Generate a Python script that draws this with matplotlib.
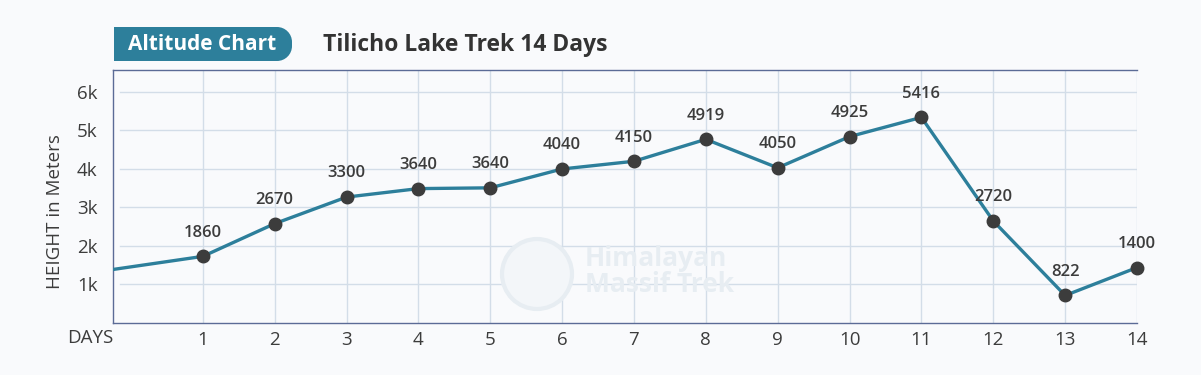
import matplotlib
matplotlib.use("Agg")
import matplotlib.pyplot as plt
from matplotlib.patches import PathPatch, Circle
from matplotlib.path import Path

plt.rcParams['font.family'] = ['Open Sans', 'DejaVu Sans']

# Data
days = [-1, 1, 2, 3, 4, 5, 6, 7, 8, 9, 10, 11, 12, 13, 14]
heights = [1186, 1730, 2580, 3270, 3490, 3510, 4000, 4200, 4770, 4030, 4840, 5340, 2650, 715, 1440]
label_texts = ["1860", "2670", "3300", "3640", "3640", "4040", "4150", "4919",
               "4050", "4925", "5416", "2720", "822", "1400"]
x_ticks = list(range(1, 15))
y_ticks = [1000, 2000, 3000, 4000, 5000, 6000]
y_tick_labels = ["1k", "2k", "3k", "4k", "5k", "6k"]

bg = "#f9fafc"
teal = "#2d7f9b"
dark = "#3c3c3c"
grid_c = "#d3dde8"
frame_c = "#5b6b96"
wm = "#e7edf2"

W, H = 1201, 375
fig = plt.figure(figsize=(W / 100, H / 100), dpi=100, facecolor=bg)
ax = fig.add_axes([113 / W, 1 - 323 / H, (1137 - 113) / W, (323 - 70) / H])
ax.set_facecolor(bg)
ax.set_xlim(-0.25, 14)
ax.set_ylim(0, 6570)

# grid
for x in x_ticks:
    ax.axvline(x, color=grid_c, lw=1, zorder=1)
for y in y_ticks:
    ax.axhline(y, color=grid_c, lw=1, zorder=1, xmin=0.007)

for s in ["top", "left", "bottom"]:
    ax.spines[s].set_color(frame_c)
    ax.spines[s].set_linewidth(1)
ax.spines["right"].set_visible(False)

# watermark
ax.add_patch(Circle((537, H - 274), 35, transform=None, fill=True, facecolor="#f3f6f9",
                    edgecolor=wm, lw=3, zorder=1.5))
fig.text(585 / W, 1 - 258 / H, "Himalayan", fontsize=19, fontweight="bold",
         color=wm, ha="left", va="center", zorder=1.5)
fig.text(585 / W, 1 - 284 / H, "Massif Trek", fontsize=19, fontweight="bold",
         color=wm, ha="left", va="center", zorder=1.5)

# line
ax.plot(days, heights, color=teal, lw=2.4, zorder=3, clip_on=True, solid_capstyle="round")
ax.plot(days[1:], heights[1:], "o", color=dark, markersize=9, zorder=4, clip_on=False)
for d, h, t in zip(days[1:], heights[1:], label_texts):
    ax.annotate(t, (d, h), xytext=(0, 17), textcoords="offset points",
                ha="center", va="center", fontsize=12, fontweight="semibold",
                color=dark, zorder=5)

ax.set_xticks(x_ticks)
ax.set_xticklabels([str(x) for x in x_ticks])
ax.set_yticks(y_ticks)
ax.set_yticklabels(y_tick_labels)
ax.tick_params(axis="both", length=0, labelsize=13.5, labelcolor=dark)
ax.tick_params(axis="x", pad=6)
ax.tick_params(axis="y", pad=11)
fig.text(113 / W, 1 - 338 / H, "DAYS", ha="right", va="center", fontsize=13.5, color=dark)

fig.text(55 / W, 1 - 212 / H, "HEIGHT in Meters", rotation=90, ha="center", va="center",
         fontsize=13.5, color=dark)

# header box (pixel path: square left, rounded right)
x0, x1, yt, yb, r = 114, 292, 27, 61, 15
yt_, yb_ = H - yt, H - yb
k = 0.5523
verts = [(x0, yb_), (x1 - r, yb_),
         (x1 - r + k * r, yb_), (x1, yb_ + r - k * r), (x1, yb_ + r),
         (x1, yt_ - r),
         (x1, yt_ - r + k * r), (x1 - r + k * r, yt_), (x1 - r, yt_),
         (x0, yt_), (x0, yb_)]
codes = [Path.MOVETO, Path.LINETO,
         Path.CURVE4, Path.CURVE4, Path.CURVE4,
         Path.LINETO,
         Path.CURVE4, Path.CURVE4, Path.CURVE4,
         Path.LINETO, Path.CLOSEPOLY]
fig.patches.append(PathPatch(Path(verts, codes), transform=None,
                             facecolor=teal, edgecolor="none"))
fig.text(202 / W, 1 - 44 / H, "Altitude Chart", ha="center", va="center",
         fontsize=15, fontweight="bold", color="white")
fig.text(323 / W, 1 - 45 / H, "Tilicho Lake Trek 14 Days", ha="left", va="center",
         fontsize=16.5, fontweight="bold", color="#333333")

fig.savefig("out.png", dpi=100, facecolor=bg)
